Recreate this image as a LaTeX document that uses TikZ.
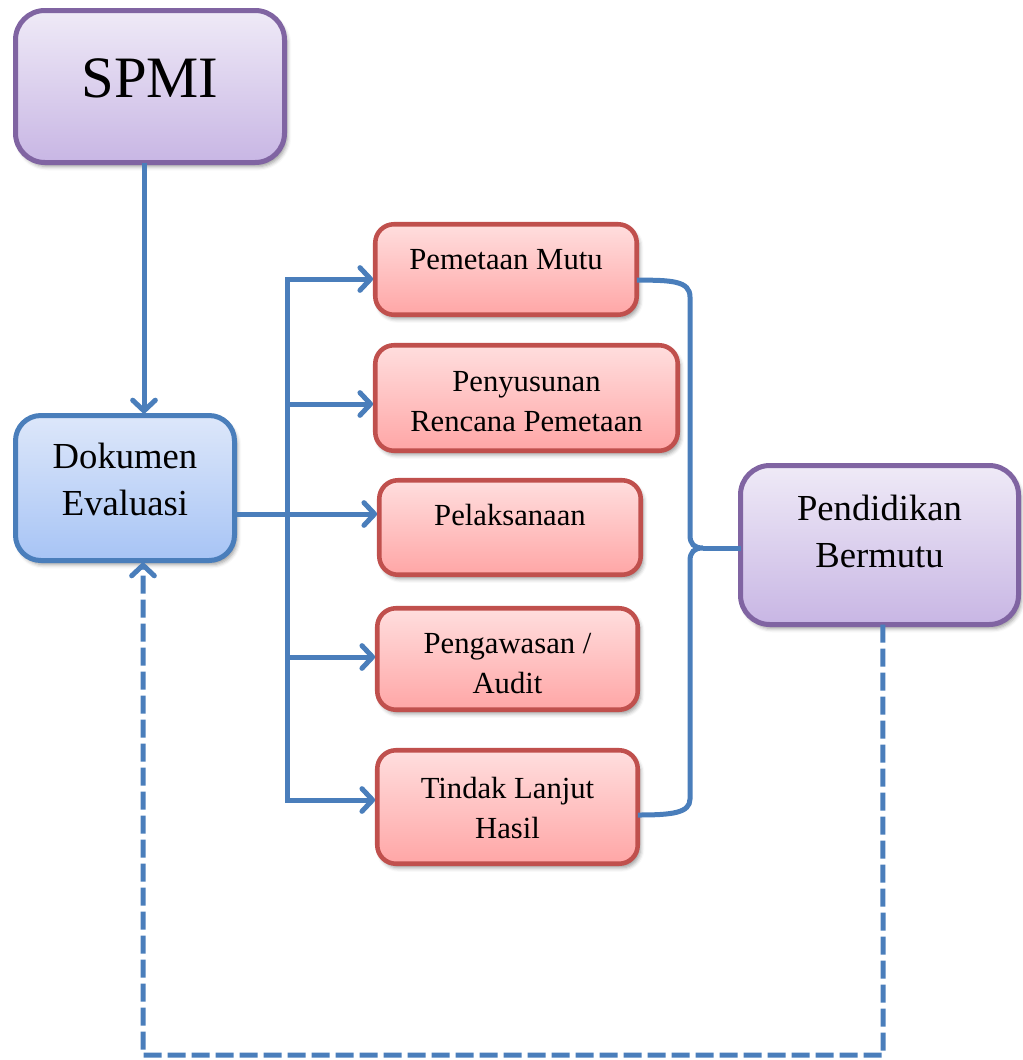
\documentclass[tikz,border=0pt]{standalone}
\usepackage{fontspec}
\setmainfont{Liberation Serif}
\usetikzlibrary{arrows.meta,shadows.blur}

\definecolor{linkblue}{HTML}{4A7EBB}
\definecolor{purpleedge}{HTML}{8064A2}
\definecolor{purpletop}{HTML}{EFEAF7}
\definecolor{purplebot}{HTML}{C8B6E4}
\definecolor{blueedge}{HTML}{4A7EBB}
\definecolor{bluetop}{HTML}{DDE7FA}
\definecolor{bluebot}{HTML}{A7C4F5}
\definecolor{rededge}{HTML}{C0504D}
\definecolor{redtop}{HTML}{FFDEDE}
\definecolor{redbot}{HTML}{FFA6A6}

\begin{document}
\begin{tikzpicture}[x=0.75pt,y=-0.75pt,
  box/.style={inner sep=0pt, outer sep=0pt, anchor=north, align=center,
    blur shadow={shadow xshift=2pt, shadow yshift=-3pt,
                 shadow blur radius=3pt, shadow opacity=40}},
  purplebox/.style={box, draw=purpleedge, line width=3.75pt,
    top color=purpletop, bottom color=purplebot, rounded corners=22pt},
  bluebox/.style={box, draw=blueedge, line width=3.75pt,
    top color=bluetop, bottom color=bluebot, rounded corners=19pt,
    font=\fontsize{27.5}{35.25}\selectfont},
  redbox/.style={box, draw=rededge, line width=3.4pt,
    top color=redtop, bottom color=redbot, rounded corners=14pt,
    font=\fontsize{23}{29.3}\selectfont},
  conn/.style={draw=linkblue, line width=3.75pt},
  arr/.style={-{Straight Barb[length=8pt,width=17pt,round]}, shorten >=1.6pt},
  dashline/.style={dash pattern=on 13.5pt off 4.5pt}]

\useasboundingbox (0,0) rectangle (1023,1060);

% boxes (text height/depth are measured from the last baseline)
\node[purplebox, minimum width=201.75pt, text height=64.875pt, text depth=49.125pt,
      font=\fontsize{44}{50}\selectfont] (spmi) at (150,10.5) {SPMI};
\node[bluebox, minimum width=164.25pt, text height=74.625pt, text depth=34.125pt]
      (dok) at (125,415.5) {Dokumen\\Evaluasi};
\node[purplebox, minimum width=208.5pt, text height=76.125pt, text depth=43.125pt,
      font=\fontsize{27.5}{35.25}\selectfont]
      (pb) at (879.5,465.5) {Pendidikan\\Bermutu};

\node[redbox, minimum width=196.125pt, text height=33.5625pt, text depth=34.3125pt]
      (pm) at (506,224.25) {Pemetaan Mutu};
\node[redbox, minimum width=226.875pt, text height=64.3125pt, text depth=14.8125pt]
      (pr) at (526.5,345.25) {Penyusunan\\Rencana Pemetaan};
\node[redbox, minimum width=196.125pt, text height=33.5625pt, text depth=37.3125pt]
      (pl) at (510,480.25) {Pelaksanaan};
\node[redbox, minimum width=195.375pt, text height=63.5625pt, text depth=12.5625pt]
      (pa) at (507.5,608.25) {Pengawasan /\\Audit};
\node[redbox, minimum width=195.375pt, text height=65.8125pt, text depth=19.3125pt]
      (tl) at (507.5,750.25) {Tindak Lanjut\\Hasil};

% branching points on the vertical trunk
\coordinate (t1) at (287,279);
\coordinate (t2) at (287,404);
\coordinate (t3) at (287,514);
\coordinate (t4) at (287,657);
\coordinate (t5) at (287,800);
\coordinate (tip) at (703,548);
\coordinate (c1) at (883,1055);
\coordinate (c2) at (143,1055);

% SPMI down to Dokumen Evaluasi
\draw[conn,arr] ([xshift=-4.5pt]spmi.south) -- ([xshift=-4.5pt]spmi.south |- dok.north);

% trunk and branches
\draw[conn,arr] (t3) -- (t1) -- (t1 -| pm.west);
\draw[conn,arr] (t3) -- (t5) -- (t5 -| tl.west);
\draw[conn,arr] (t2) -- (t2 -| pr.west);
\draw[conn,arr] (dok.east |- t3) -- (t3 -| pl.west);
\draw[conn,arr] (t4) -- (t4 -| pa.west);

% brace gathering the five steps
\draw[conn] ([yshift=-8pt]pm.east)
  .. controls (672,280) and (690,281) .. (690,297)
  -- (690,535)
  .. controls (690,544) and (694,548) .. (tip)
  .. controls (694,548) and (690,552) .. (690,561)
  -- (690,799)
  .. controls (690,813) and (672,815) .. ([yshift=-6pt]tl.east);
\draw[conn] (tip) -- (tip -| pb.west);

% feedback loop
\draw[conn,dashline,arr] ([xshift=2.6pt]pb.south) -- (c1) -- (c2) -- ([xshift=13.5pt]dok.south);

\end{tikzpicture}
\end{document}
